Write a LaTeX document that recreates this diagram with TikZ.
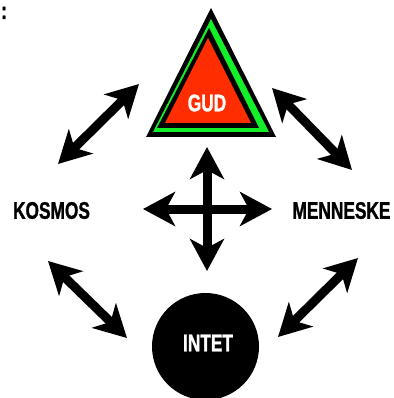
\documentclass[tikz,border=0pt]{standalone}
\usepackage{fontspec}
\usetikzlibrary{arrows.meta}
\newfontfamily\condbold[FakeStretch=0.72,FakeBold=1.2]{Liberation Sans Bold}
\definecolor{gudred}{RGB}{255,45,0}
\definecolor{gudgreen}{RGB}{20,240,40}
\begin{document}
\begin{tikzpicture}[x=1pt,y=-1pt,
  lbl/.style={font=\condbold\fontsize{24}{27}\selectfont, inner sep=0pt},
  dbl/.style={line width=9pt, {Stealth[length=32pt,width=34pt,inset=9pt]}-{Stealth[length=32pt,width=34pt,inset=9pt]}}]
\useasboundingbox (0,0) rectangle (393,398);
% triangle (GUD)
\fill[black] (211,8) -- (146,137) -- (276,137) -- cycle;
\fill[gudgreen] (211,19) -- (153,132) -- (269,132) -- cycle;
\fill[black] (209,28) -- (157,128) -- (259,128) -- cycle;
\fill[gudred] (208,38) -- (165,123) -- (251,123) -- cycle;
\node[lbl, text=white] (gud) at (207,103) {GUD};
% circle (INTET)
\node[circle, fill=black, minimum size=107pt, inner sep=0pt] (circ) at (205.5,346.5) {};
\node[lbl, text=white] (intet) at (208,343) {INTET};
% side labels
\node[lbl] (kosmos) at (51.5,210.5) {KOSMOS};
\node[lbl] (menneske) at (341.5,210.5) {MENNESKE};
\node[lbl, anchor=base west] (colon) at (1,19) {:};
% arrow end points
\coordinate (a1) at (58,164);  \coordinate (b1) at (139,84);
\coordinate (a2) at (272,88);  \coordinate (b2) at (352,170);
\coordinate (a3) at (48,261);  \coordinate (b3) at (127,338);
\coordinate (a4) at (278,337); \coordinate (b4) at (358,258);
\coordinate (up) at (207,147); \coordinate (dn) at (207,271);
\coordinate (lf) at (143,209); \coordinate (rt) at (272,209);
\draw[dbl] (a1) -- (b1);
\draw[dbl] (a2) -- (b2);
\draw[dbl] (a3) -- (b3);
\draw[dbl] (a4) -- (b4);
\draw[dbl] (up) -- (dn);
\draw[dbl] (lf) -- (rt);
\end{tikzpicture}
\end{document}
